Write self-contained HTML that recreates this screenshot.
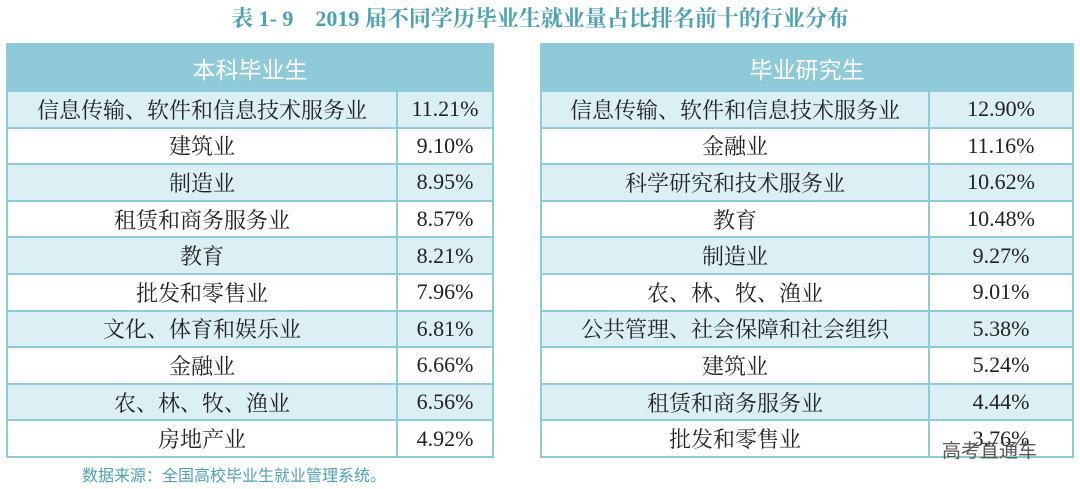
<!DOCTYPE html>
<html><head><meta charset="utf-8"><style>
body{margin:0;width:1080px;height:489px;background:#fff;position:relative;overflow:hidden;font-family:"Liberation Serif","Noto Serif CJK SC",serif;}
.title{position:absolute;top:2px;left:0;width:1080px;text-align:center;color:#4ba2b6;font-weight:bold;font-size:22px;}
table{position:absolute;top:43px;border-collapse:collapse;}
td{border:2px solid #8ecbd8;height:34.6px;font-size:22px;color:#222;text-align:center;padding:0;}
th{background:#8fcad8;color:#fff;height:43px;font-weight:normal;font-size:23px;border:2px solid #8ecbd8;font-family:"Noto Sans CJK SC",sans-serif;}
tr:nth-child(even) td{background:#dbeff5;}
.foot{position:absolute;left:82px;top:462px;color:#4ba2b6;font-size:16px;font-family:"Noto Sans CJK SC",sans-serif;}
.wm{position:absolute;left:942px;top:436px;color:#555;font-size:19px;font-family:"Noto Sans CJK SC",sans-serif;}
</style></head><body>
<div class="title">表 1- 9　2019 届不同学历毕业生就业量占比排名前十的行业分布</div>
<table style="left:6px;width:488px"><tr><th colspan="2">本科毕业生</th></tr>
<tr><td style="width:388px">信息传输、软件和信息技术服务业</td><td>11.21%</td></tr>
<tr><td>建筑业</td><td>9.10%</td></tr>
<tr><td>制造业</td><td>8.95%</td></tr>
<tr><td>租赁和商务服务业</td><td>8.57%</td></tr>
<tr><td>教育</td><td>8.21%</td></tr>
<tr><td>批发和零售业</td><td>7.96%</td></tr>
<tr><td>文化、体育和娱乐业</td><td>6.81%</td></tr>
<tr><td>金融业</td><td>6.66%</td></tr>
<tr><td>农、林、牧、渔业</td><td>6.56%</td></tr>
<tr><td>房地产业</td><td>4.92%</td></tr></table>
<table style="left:540px;width:534px"><tr><th colspan="2">毕业研究生</th></tr>
<tr><td style="width:386px">信息传输、软件和信息技术服务业</td><td>12.90%</td></tr>
<tr><td>金融业</td><td>11.16%</td></tr>
<tr><td>科学研究和技术服务业</td><td>10.62%</td></tr>
<tr><td>教育</td><td>10.48%</td></tr>
<tr><td>制造业</td><td>9.27%</td></tr>
<tr><td>农、林、牧、渔业</td><td>9.01%</td></tr>
<tr><td>公共管理、社会保障和社会组织</td><td>5.38%</td></tr>
<tr><td>建筑业</td><td>5.24%</td></tr>
<tr><td>租赁和商务服务业</td><td>4.44%</td></tr>
<tr><td>批发和零售业</td><td>3.76%</td></tr></table>
<div class="foot">数据来源：全国高校毕业生就业管理系统。</div>
<div class="wm">高考直通车</div>
</body></html>
